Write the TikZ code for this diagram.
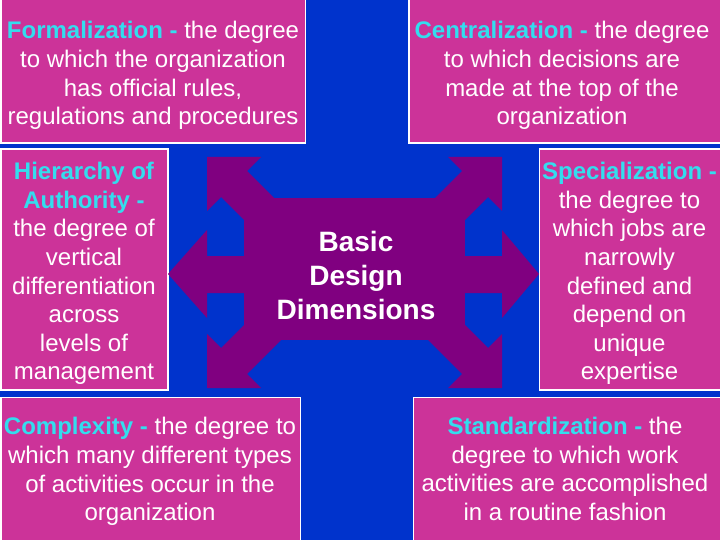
\documentclass[tikz,border=0pt]{standalone}
\usepackage{fontspec}
\setmainfont{Liberation Sans}
\definecolor{bgblue}{RGB}{0,51,204}
\definecolor{boxmag}{RGB}{204,51,153}
\definecolor{purp}{RGB}{128,0,128}
\definecolor{headcyan}{RGB}{51,221,238}
\newcommand{\hd}[1]{{\bfseries\color{headcyan}#1}}
\begin{document}
\begin{tikzpicture}[x=1pt,y=-1pt,
  box/.style={draw=white, line width=1.5pt, fill=boxmag, inner sep=0pt, outer sep=0pt, anchor=north west},
  txt/.style={text=white, align=center, inner sep=0pt, font=\fontsize{24}{28.6}\selectfont},
  ctr/.style={text=white, align=center, inner sep=0pt, font=\fontsize{28}{34}\selectfont\bfseries},
  arrowfill/.style={fill=purp}]
\useasboundingbox (0,0) rectangle (720,540);
\clip (0,0) rectangle (720,540);
\fill[bgblue] (0,0) rectangle (720,540);

% boxes
\node[box, minimum width=304.5pt, minimum height=144.25pt] (tlbox) at (0.75,-1) {};
\node[box, minimum width=313.25pt, minimum height=144.25pt] (trbox) at (408.75,-1) {};
\node[box, minimum width=167pt, minimum height=240.5pt] (mlbox) at (0.75,149.25) {};
\node[box, minimum width=182.75pt, minimum height=240.5pt] (mrbox) at (539.25,149.25) {};
\node[box, minimum width=299.5pt, minimum height=144.75pt] (blbox) at (0.75,397.25) {};
\node[box, minimum width=308.75pt, minimum height=144.75pt] (brbox) at (413.25,397.25) {};

% purple arrows shape
\fill[arrowfill] (244,198) rectangle (465,340);
\fill[arrowfill] (168,274) -- (207,230) -- (207,256) -- (502,256) -- (502,230) -- (539,274)
  -- (502,318) -- (502,293) -- (207,293) -- (207,318) -- cycle;
\foreach \sx/\sy in {1/1,-1/1,1/-1,-1/-1}{
  \begin{scope}[shift={(354.5,272.5)}, xscale=\sx, yscale=\sy]
    \fill[arrowfill] (-147.5,-115.5) -- (-93.5,-115.5) -- (-107.5,-101.5) -- (-56.5,-50.5)
      -- (-82.5,-24.5) -- (-133.5,-75.5) -- (-147.5,-61.5) -- cycle;
  \end{scope}
}

% texts
\node[txt] (tl) at (153,75.5) {\hd{Formalization -} the degree\\to which the organization\\has official rules,\\regulations and procedures};
\node[txt] (tr) at (562,75.5) {\hd{Centralization -} the degree\\to which decisions are\\made at the top of the\\organization};
\node[txt] (ml) at (84,273.5) {\hd{Hierarchy of}\\\hd{Authority -}\\the degree of\\vertical\\differentiation\\across\\levels of\\management};
\node[txt] (mr) at (629.5,273.5) {\hd{Specialization -}\\the degree to\\which jobs are\\narrowly\\defined and\\depend on\\unique\\expertise};
\node[txt] (bl) at (150,471.5) {\hd{Complexity -} the degree to\\which many different types\\of activities occur in the\\organization};
\node[txt] (br) at (565,469) {\hd{Standardization -} the\\degree to which work\\activities are accomplished\\in a routine fashion};
\node[ctr] (center) at (356,275) {Basic\\Design\\Dimensions};
\end{tikzpicture}
\end{document}
